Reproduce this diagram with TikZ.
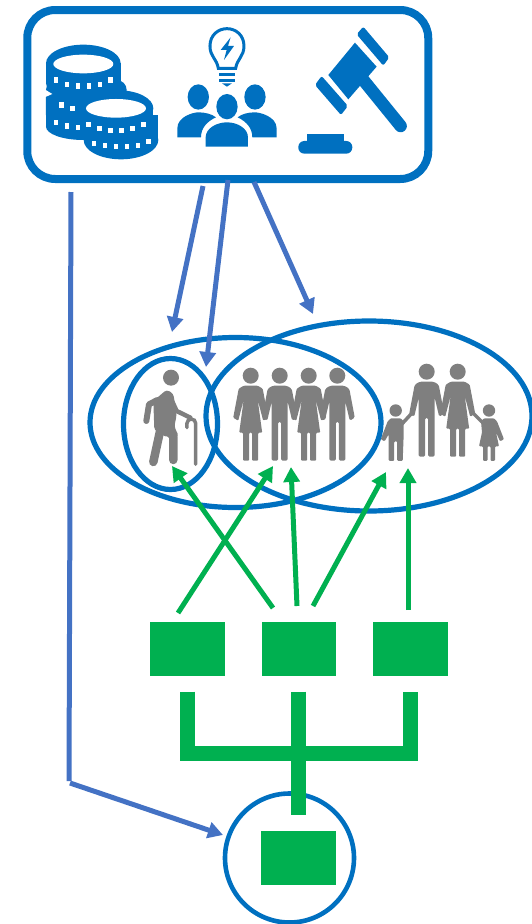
\documentclass[tikz,border=0pt]{standalone}
\usepackage{tikz}
\usetikzlibrary{positioning}
\usetikzlibrary{calc}
\usetikzlibrary{arrows.meta}
\usetikzlibrary{shapes.geometric}
\definecolor{ringblue}{HTML}{0070C0}
\definecolor{linkblue}{HTML}{4472C4}
\definecolor{boxgreen}{HTML}{00B050}
\definecolor{figgray}{HTML}{7F7F7F}
\tikzstyle{block} = [fill=boxgreen, rectangle, inner sep=0pt, outer sep=0pt, minimum height=54pt, minimum width=74.5pt]
\tikzstyle{coord} = [coordinate]
\tikzstyle{ring} = [draw=ringblue, line width=5.2pt]
\tikzstyle{panel} = [draw=ringblue, rectangle, rounded corners=28pt, line width=8pt, inner sep=0pt, outer sep=0pt, minimum width=401pt, minimum height=169pt]
\tikzstyle{bluearrow} = [draw=linkblue, line width=5pt, -{Triangle[length=15pt,width=16pt]}]
\tikzstyle{blueline} = [draw=linkblue, line width=5pt]
\tikzstyle{greenarrow} = [draw=boxgreen, line width=5pt, -{Triangle[length=15pt,width=16pt]}]
\tikzstyle{bus} = [draw=boxgreen, line width=15pt]
\newcommand{\manfig}{%
  \fill (0,8) circle (8);
  \fill[rounded corners=1.5pt] (-7,18) -- (7,18) -- (12,21) -- (17.5,50) -- (12.5,53) -- (8,34) -- (8,93) -- (1.5,93) -- (1.5,54) -- (-1.5,54) -- (-1.5,93) -- (-8,93) -- (-8,34) -- (-12.5,53) -- (-17.5,50) -- (-12,21) -- cycle;
}
\newcommand{\womanfig}{%
  \fill (0,8) circle (8);
  \fill[rounded corners=1pt] (-7,18) -- (7,18) -- (12,21) -- (17.5,50) -- (12.5,53) -- (7,32) -- (11.5,65) -- (7.5,65) -- (7.5,93) -- (1.5,93) -- (1.5,65) -- (-1.5,65) -- (-1.5,93) -- (-7.5,93) -- (-7.5,65) -- (-11.5,65) -- (-7,32) -- (-12.5,53) -- (-17.5,50) -- (-12,21) -- cycle;
}
\newcommand{\boyfig}{%
  \fill (0,6.2) circle (6.2);
  \fill[rounded corners=1pt] (-5,14) -- (5,14) -- (8,17) -- (8,30) -- (7,56.5) -- (1.5,56.5) -- (1.5,37) -- (-1.5,37) -- (-1.5,56.5) -- (-7,56.5) -- (-7,30) -- (-11,37) -- (-15,35) -- (-8,17) -- cycle;
}
\newcommand{\girlfig}{%
  \fill (0,6.2) circle (6.2);
  \fill[rounded corners=1pt] (-5,14) -- (5,14) -- (8,17) -- (15,35) -- (11,37) -- (7,28) -- (10,42) -- (6,42) -- (6,56.5) -- (1.5,56.5) -- (1.5,42) -- (-1.5,42) -- (-1.5,56.5) -- (-6,56.5) -- (-6,42) -- (-10,42) -- (-7,28) -- (-8,17) -- cycle;
}
\begin{document}
\begin{tikzpicture}[x=1pt,y=-1pt]
    \useasboundingbox (0,0) rectangle (531,924);

    % top panel
    \node [panel] (panel) at (227.75,94.5) {};

    % money
    \begin{scope}[shift={(20,0)},scale=0.3333,ringblue]
      \fill (190,190) ellipse (112 and 56);
      \fill (78,190) rectangle (302,250);
      \fill (190,250) ellipse (112 and 40);
      \fill[rounded corners=10pt] (78,240) rectangle (320,375);
      \fill (78,290) rectangle (200,380);
      \fill (190,380) ellipse (112 and 40);
      \fill[white] (74,268) -- (97,282) -- (74,292) -- cycle;
      \fill[white] (190,192) ellipse (90 and 28);
      \fill (303,420) ellipse (112 and 58);
      \fill (191,345) rectangle (415,420);
      \fill (296,325) ellipse (104 and 54);
      \fill (192,325) rectangle (400,360);
      \fill[white] (288,325) ellipse (90 and 28);
      \foreach \px/\py in {108/240,141/253,174/258,207/258,240/253,272/240,125/315,158/325,108/367,141/378,174/382,205/373,238/386,271/391,304/391,337/386,370/373,222/430,255/437,288/440,321/440,354/437,385/425}
        \fill[white] (\px-7,\py-8) rectangle (\px+7,\py+8);
    \end{scope}

    % group with idea
    \begin{scope}[shift={(20,0)},scale=0.3333,ringblue]
      \draw[line width=3pt] (595,205) .. controls (590,175) and (570,170) .. (570,138) .. controls (570,105) and (595,86) .. (621,86) .. controls (647,86) and (672,105) .. (672,138) .. controls (672,170) and (652,175) .. (647,205) -- cycle;
      \fill (632,112) -- (602,150) -- (620,150) -- (612,180) -- (642,138) -- (624,138) -- cycle;
      \fill (597,219) rectangle (645,229);
      \fill (597,236) rectangle (645,246);
      \fill (606,250) -- (636,250) -- (621,260) -- cycle;
      \fill (535,291) ellipse (32 and 38);
      \fill (705,291) ellipse (32 and 38);
      \fill (472,412) -- (472,385) .. controls (472,350) and (520,337) .. (535,337) .. controls (555,337) and (575,342) .. (588,352) .. controls (560,365) and (543,385) .. (543,412) -- cycle;
      \fill (770,412) -- (770,385) .. controls (770,350) and (720,337) .. (705,337) .. controls (685,337) and (665,342) .. (653,352) .. controls (680,365) and (697,385) .. (697,412) -- cycle;
      \fill (621,320) ellipse (32 and 38);
      \fill (557,440) -- (557,412) .. controls (557,385) and (590,367) .. (621,367) .. controls (652,367) and (684,385) .. (684,412) -- (684,440) -- cycle;
    \end{scope}

    % gavel
    \begin{scope}[shift={(20,0)},scale=0.3333,ringblue]
      \fill (1005,128) -- (1070,200) -- (985,298) -- (925,225) -- cycle;
      \fill[rounded corners=2pt] (905,228) -- (984,318) -- (963,345) -- (885,255) -- cycle;
      \fill[rounded corners=2pt] (1030,80) -- (1108,172) -- (1090,197) -- (1010,103) -- cycle;
      \draw[line width=12.5pt,line cap=round] (1030,240) -- (1142,378);
      \fill[rounded corners=6pt] (835,423) rectangle (997,461);
      \fill (860,403) rectangle (972,430);
    \end{scope}

    % people
    \begin{scope}[figgray]
      \begin{scope}[shift={(250.7,367.7)}] \womanfig \end{scope}
      \begin{scope}[shift={(279.7,367.7)}] \manfig \end{scope}
      \begin{scope}[shift={(308.7,367.7)}] \womanfig \end{scope}
      \begin{scope}[shift={(337.3,367.7)}] \manfig \end{scope}
      \begin{scope}[shift={(426.7,363.7)}] \manfig \end{scope}
      \begin{scope}[shift={(457.7,363.7)}] \womanfig \end{scope}
      \begin{scope}[shift={(395.7,404.3)}] \boyfig \end{scope}
      \begin{scope}[shift={(489,404.3)}] \girlfig \end{scope}
      \draw[line width=3.5pt,line cap=round] (401,425) -- (412,413);
      \draw[line width=3.5pt,line cap=round] (482,422) -- (472,412);
    \end{scope}

    % old man
    \begin{scope}[shift={(85,315)},scale=0.3333,figgray]
      \fill (258,188) circle (24);
      \draw[line width=6pt,line cap=round,line join=round] (217,255) -- (192,268) -- (184,318);
      \draw[line width=4.5pt,line cap=round,line join=round] (255,245) -- (275,288) -- (316,308);
      \fill[rounded corners=3pt] (205,258) -- (245,224) -- (265,236) -- (275,300) -- (268,335) -- (282,365) -- (240,365) -- (208,345) -- cycle;
      \draw[line width=8.5pt,line cap=round] (228,335) -- (205,441);
      \draw[line width=8.5pt,line cap=round,line join=round] (240,335) -- (265,365) -- (265,435);
      \draw[line width=3.5pt,line cap=round] (332,448) -- (332,325) arc (0:-180:13) -- (306,338);
    \end{scope}

    % circles
    \node [coord] (adults) at (235.5,422.5) {};
    \node [coord] (families) at (369,416) {};
    \node [coord] (elders) at (170.5,424) {};
    \node [coord] (base) at (289.5,858) {};
    \draw [ring] (adults) ellipse (145.5 and 85);
    \draw [ring] (families) ellipse (163 and 95);
    \draw [ring] (elders) ellipse (47 and 65.5);
    \draw [ring, line width=4.6pt] (base) circle (64.5);

    % boxes
    \node [block] (box1) at (187.25,649) {};
    \node [block, right = 37pt of box1] (box2) {};
    \node [block, right = 37pt of box2] (box3) {};
    \node [block] (box4) at (298.7,857.5) {};

    % tree
    \node [coord] (top1) at (187,691.5) {};
    \node [coord] (top2) at (298.5,691.5) {};
    \node [coord] (top3) at (410,691.5) {};
    \node [coord] (stem) at (298.5,815) {};
    \draw [bus] (top1) -- (187,753.5) -- (410,753.5) -- (top3);
    \draw [bus] (top2) -- (stem);

    % blue links
    \node [coord] (from1) at (203,186) {};
    \node [coord] (to1) at (172,332) {};
    \node [coord] (from2) at (228,180) {};
    \node [coord] (to2) at (206,367) {};
    \node [coord] (from3) at (254,182) {};
    \node [coord] (to3) at (313,314) {};
    \node [coord] (from4) at (71,192) {};
    \node [coord] (bend) at (69,781) {};
    \node [coord] (from5) at (70,783) {};
    \node [coord] (to4) at (223,835) {};
    \draw [bluearrow] (from1) -- (to1);
    \draw [bluearrow] (from2) -- (to2);
    \draw [bluearrow] (from3) -- (to3);
    \draw [blueline] (from4) -- (bend);
    \draw [bluearrow] (from5) -- (to4);

    % green links
    \node [coord] (g1) at (273,608) {};
    \node [coord] (t1) at (172,466) {};
    \node [coord] (g2) at (178,613) {};
    \node [coord] (t2) at (273,466) {};
    \node [coord] (g3) at (297,606) {};
    \node [coord] (t3) at (291,467) {};
    \node [coord] (g4) at (313,606) {};
    \node [coord] (t4) at (386,472) {};
    \node [coord] (g5) at (408,610) {};
    \node [coord] (t5) at (408,468) {};
    \draw [greenarrow] (g1) -- (t1);
    \draw [greenarrow] (g2) -- (t2);
    \draw [greenarrow] (g3) -- (t3);
    \draw [greenarrow] (g4) -- (t4);
    \draw [greenarrow] (g5) -- (t5);
\end{tikzpicture}
\end{document}
